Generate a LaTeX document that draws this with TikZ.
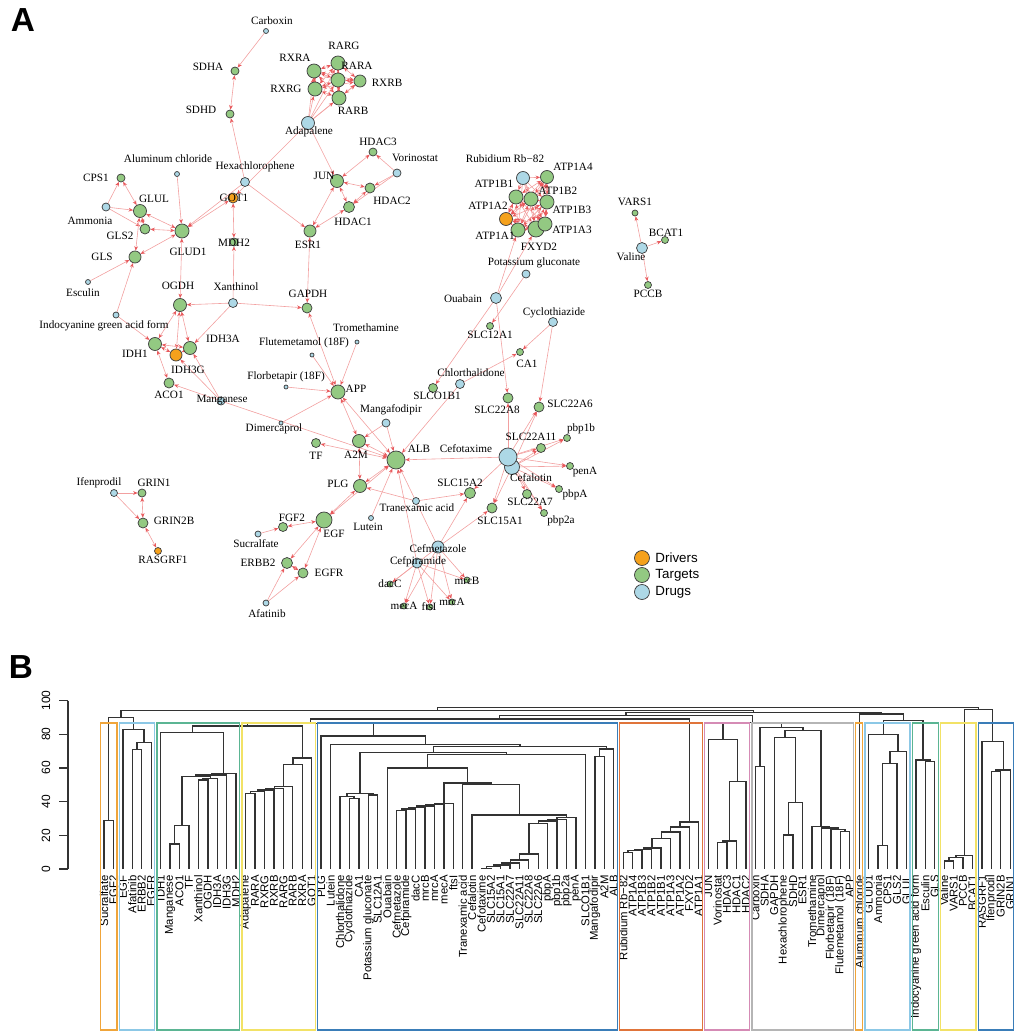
\documentclass[tikz,border=0pt]{standalone}
\usepackage{fontspec}
\setmainfont{Liberation Serif}
\newfontfamily\dsans{Liberation Sans}
\usetikzlibrary{arrows.meta,positioning,calc}
\pgfdeclarelayer{background}
\pgfdeclarelayer{foreground}
\pgfsetlayers{background,main,foreground}
\definecolor{drvcol}{HTML}{F5A11C}
\definecolor{tgtcol}{HTML}{93C982}
\definecolor{drgcol}{HTML}{ADD8E6}
\definecolor{edgecol}{HTML}{F2A0A0}
\definecolor{tipcol}{HTML}{E8595C}
\definecolor{treecol}{HTML}{333333}
\definecolor{bxorange}{HTML}{F0A53A}
\definecolor{bxlblue}{HTML}{8CC8E6}
\definecolor{bxgreen}{HTML}{5BB593}
\definecolor{bxyellow}{HTML}{F2E266}
\definecolor{bxblue}{HTML}{3A7DB8}
\definecolor{bxred}{HTML}{E0743A}
\definecolor{bxpink}{HTML}{D58BB5}
\definecolor{bxgrey}{HTML}{B5B5B5}

% one link of the tree: new point, left child, right child, height
\newcommand{\dmerge}[4]{%
  \pgfmathsetmacro{\dhy}{869-1.684*#4}
  \draw[dlink] (#2) -- (#2 |- 0,\dhy) -- (#3 |- 0,\dhy) -- (#3);
  \coordinate (#1) at ($(#2 |- 0,\dhy)!0.5!(#3 |- 0,\dhy)$);
}
% cluster box from first to last leaf
\newcommand{\dbox}[3]{\draw[bx,#3] ($(k#1)+(-3.5,-146)$) rectangle ($(k#2)+(3.5,161)$);}

\begin{document}
\begin{tikzpicture}[x=0.75pt,y=-0.75pt,
  nd/.style={circle,draw=black!75,line width=0.55pt,inner sep=0pt,minimum size={1.5pt*#1}},
  drv/.style={nd=#1,fill=drvcol},
  tgt/.style={nd=#1,fill=tgtcol},
  drg/.style={nd=#1,fill=drgcol},
  lbl/.style={inner sep=0pt,font=\fontsize{8.4}{9}\selectfont},
  hit/.style={draw=edgecol,line width=0.45pt,-{Stealth[length=3.4pt,width=2.8pt,color=tipcol]}},
  ppi/.style={draw=edgecol,line width=0.45pt,{Stealth[length=3.4pt,width=2.8pt,color=tipcol]}-{Stealth[length=3.4pt,width=2.8pt,color=tipcol]}},
  dlink/.style={draw=treecol,line width=1pt},
  bx/.style={line width=1pt},
  axln/.style={draw=treecol,line width=1pt},
  leaflbl/.style={rotate=90,anchor=east,inner sep=0pt,font=\dsans\fontsize{8.5}{9}\selectfont},
  ticklbl/.style={rotate=90,inner sep=0pt,font=\dsans\fontsize{9}{9}\selectfont},
  lgd/.style={inner sep=0pt,font=\dsans\fontsize{10}{11}\selectfont},
  panel/.style={font=\dsans\bfseries\fontsize{25}{25}\selectfont}]
\useasboundingbox (0,0) rectangle (1020,1035);

\node[panel] (pA) at (23,20) {A};
\node[panel] (pB) at (21,667) {B};

%drivers
\node[drv=5] (GOT1) at (233,198) {};
\node[drv=6] (IDH3G) at (176,355) {};
\node[drv=3.5] (RASGRF1) at (158,551) {};

%targets
\node[tgt=4] (SDHA) at (235,71) {};
\node[tgt=4] (SDHD) at (230,114) {};
\node[tgt=7] (RXRA) at (314,71) {};
\node[tgt=7] (RXRG) at (315,89) {};
\node[tgt=7] (RARG) at (338,63) {};
\node[tgt=7] (RARA) at (338,80) {};
\node[tgt=6] (RXRB) at (360,81) {};
\node[tgt=7] (RARB) at (339,98) {};
\node[tgt=4] (CPS1) at (121,178) {};
\node[tgt=6.5] (GLUL) at (140,211) {};
\node[tgt=5] (GLS2) at (145,229) {};
\node[tgt=7] (GLUD1) at (182,231) {};
\node[tgt=4] (MDH2) at (234,242) {};
\node[tgt=6.5] (JUN) at (337,181) {};
\node[tgt=6] (ESR1) at (310,231) {};
\node[tgt=6] (GLS) at (135,257) {};
\node[tgt=6.5] (OGDH) at (180,305) {};
\node[tgt=5] (GAPDH) at (307,308) {};
\node[tgt=6.5] (IDH1) at (155,344) {};
\node[tgt=6.5] (IDH3A) at (190,348) {};
\node[tgt=5] (ACO1) at (169,383) {};
\node[tgt=7] (APP) at (338,392) {};
\node[tgt=4.5] (TF) at (316,443) {};
\node[tgt=6.5] (A2M) at (359,441) {};
\node[tgt=9] (ALB) at (396,460) {};
\node[tgt=4.5] (SLCO1B1) at (433,388) {};
\node[tgt=3.5] (SLC12A1) at (490,326) {};
\node[tgt=3.5] (CA1) at (520,352) {};
\node[tgt=5] (SLC22A8) at (508,398) {};
\node[tgt=5] (SLC22A6) at (539,407) {};
\node[tgt=4.5] (SLC22A11) at (541,448) {};
\node[tgt=3.5] (pbp1b) at (567,438) {};
\node[tgt=3.5] (penA) at (570,466) {};
\node[tgt=3.5] (pbpA) at (559,489) {};
\node[tgt=3.5] (pbp2a) at (544,513) {};
\node[tgt=4.5] (SLC22A7) at (527,494) {};
\node[tgt=5.5] (SLC15A2) at (470,493) {};
\node[tgt=5] (SLC15A1) at (492,508) {};
\node[tgt=6.5] (PLG) at (360,486) {};
\node[tgt=8] (EGF) at (324,520) {};
\node[tgt=3] (dacC) at (390,584) {};
\node[tgt=3] (mrcB) at (467,580) {};
\node[tgt=3] (mecA) at (404,606) {};
\node[tgt=3] (ftsI) at (430,607) {};
\node[tgt=3] (mrcA) at (452,602) {};
\node[tgt=4.5] (FGF2) at (283,527) {};
\node[tgt=5.5] (ERBB2) at (287,563) {};
\node[tgt=5] (EGFR) at (303,573) {};
\node[tgt=4] (GRIN1) at (142,493) {};
\node[tgt=5] (GRIN2B) at (143,523) {};
\node[tgt=4] (HDAC3) at (373,152) {};
\node[tgt=5] (HDAC2) at (370,188) {};
\node[tgt=5.5] (HDAC1) at (349,207) {};
\node[tgt=6.5] (ATP1A4) at (547,177) {};
\node[tgt=7] (ATP1B1) at (516,197) {};
\node[tgt=7] (ATP1B2) at (531,199) {};
\node[tgt=7] (ATP1B3) at (547,202) {};
\node[drv=6.5] (ATP1A2) at (506,219) {};
\node[tgt=7] (ATP1A1) at (518,230) {};
\node[tgt=8] (FXYD2) at (536,229) {};
\node[tgt=7] (ATP1A3) at (545,224) {};
\node[tgt=3] (VARS1) at (635,213) {};
\node[tgt=3.5] (BCAT1) at (665,240) {};
\node[tgt=3.5] (PCCB) at (648,285) {};

%drugs
\node[drg=2.5] (Carboxin) at (266,31) {};
\node[drg=6.5] (Adapalene) at (308,123) {};
\node[drg=2.5] (AlCl) at (177,174) {};
\node[drg=4.5] (Hexa) at (245,182) {};
\node[drg=4] (Ammonia) at (106,207) {};
\node[drg=2.5] (Esculin) at (88,282) {};
\node[drg=4.5] (Xanthinol) at (233,303) {};
\node[drg=3] (ICG) at (116,315) {};
\node[drg=4] (Mn) at (221,401) {};
\node[drg=2] (Trometh) at (357,342) {};
\node[drg=2] (Flute) at (312,355) {};
\node[drg=2] (Florbe) at (286,387) {};
\node[drg=2] (Dimer) at (281,423) {};
\node[drg=4] (Mangaf) at (386,423) {};
\node[drg=4.5] (Chlort) at (460,384) {};
\node[drg=4.5] (Cyclo) at (553,322) {};
\node[drg=4] (PotGlu) at (526,274) {};
\node[drg=5.5] (Ouabain) at (496,298) {};
\node[drg=7.5] (Cefalot) at (512,467) {};
\node[drg=9] (Cefotax) at (508,457) {};
\node[drg=3.5] (Tranex) at (416,501) {};
\node[drg=2.5] (Lutein) at (371,518) {};
\node[drg=6] (Cefmet) at (438,547) {};
\node[drg=5] (Cefpir) at (417,563) {};
\node[drg=3] (Sucral) at (258,534) {};
\node[drg=3] (Afatinib) at (266,603) {};
\node[drg=3.5] (Ifenpro) at (114,493) {};
\node[drg=4] (Vorino) at (397,173) {};
\node[drg=6.5] (RbCl) at (523,178) {};
\node[drg=5.5] (Valine) at (642,248) {};

%links
\begin{pgfonlayer}{background}
\foreach \a/\b in {Carboxin/SDHA,Hexa/SDHD,Hexa/ESR1,Hexa/GLUD1,Adapalene/GOT1,Adapalene/JUN,
  AlCl/GLUD1,Ammonia/CPS1,Ammonia/GLUL,Ammonia/GLS2,Esculin/GLS,ICG/GLS,ICG/IDH1,
  Xanthinol/MDH2,Xanthinol/OGDH,Xanthinol/GAPDH,Xanthinol/IDH3A,Mn/ACO1,Mn/IDH3G,Mn/IDH3A,Mn/ALB,
  Trometh/APP,Flute/APP,Florbe/APP,Dimer/APP,Mangaf/A2M,Mangaf/ALB,Lutein/ALB,Tranex/PLG,Tranex/SLC15A2,
  Sucral/FGF2,Afatinib/ERBB2,Afatinib/EGFR,Ifenpro/GRIN1,Ifenpro/GRIN2B,Valine/VARS1,Valine/BCAT1,Valine/PCCB,
  Vorino/HDAC3,Vorino/HDAC2,Vorino/HDAC1,Ouabain/ATP1A1,Ouabain/FXYD2,Ouabain/SLCO1B1,Ouabain/SLC22A8,
  PotGlu/SLC12A1,Cyclo/CA1,Cyclo/SLC22A6,Chlort/CA1,Chlort/ALB}
  \draw[hit] (\a) -- (\b);
\foreach \b in {ALB,SLC22A6,SLC22A8,SLC22A11,pbp1b,penA,pbpA,pbp2a,SLC22A7,SLC15A1,SLC15A2}
  \draw[hit] (Cefotax) -- (\b);
\foreach \b in {SLC22A6,SLC22A11,pbp1b,penA,pbpA,pbp2a,SLC15A1}
  \draw[hit] (Cefalot) -- (\b);
\foreach \b in {SLC15A1,SLC15A2,ALB,mrcB,mrcA,mecA,ftsI,dacC}
  \draw[hit] (Cefmet) -- (\b);
\foreach \b in {ALB,dacC,mecA,ftsI,mrcA,mrcB}
  \draw[hit] (Cefpir) -- (\b);
\foreach \b in {RXRA,RXRG,RARG,RARA,RXRB,RARB}
  \draw[hit] (Adapalene) -- (\b);
\foreach \b in {ATP1A4,ATP1B1,ATP1B2,ATP1B3,ATP1A2,ATP1A1,FXYD2,ATP1A3}
  \draw[hit] (RbCl) -- (\b);
\foreach \a/\b in {SDHA/SDHD,CPS1/GLUL,GLUL/GLS2,GLUL/GLUD1,GLS2/GLUD1,GLUL/GLS,GLS/GLUD1,GOT1/MDH2,GOT1/GLUD1,
  GLUD1/OGDH,JUN/ESR1,JUN/HDAC1,JUN/HDAC2,JUN/HDAC3,HDAC1/HDAC2,HDAC1/ESR1,ESR1/GAPDH,GAPDH/APP,
  OGDH/IDH1,OGDH/IDH3G,OGDH/IDH3A,IDH1/IDH3G,IDH1/IDH3A,IDH3A/IDH3G,IDH1/ACO1,APP/A2M,APP/ALB,A2M/ALB,
  A2M/PLG,PLG/ALB,PLG/EGF,EGF/ALB,ALB/TF,EGF/FGF2,EGF/ERBB2,EGF/EGFR,ERBB2/EGFR,GRIN1/GRIN2B,GRIN2B/RASGRF1}
  \draw[ppi] (\a) -- (\b);
\foreach \a [count=\i] in {RXRA,RXRG,RARG,RARA,RXRB,RARB}
  \foreach \b [count=\j] in {RXRA,RXRG,RARG,RARA,RXRB,RARB}
    {\ifnum\j>\i \draw[ppi] (\a) -- (\b);\fi}
\foreach \a [count=\i] in {ATP1A4,ATP1B1,ATP1B2,ATP1B3,ATP1A2,ATP1A1,FXYD2,ATP1A3}
  \foreach \b [count=\j] in {ATP1A4,ATP1B1,ATP1B2,ATP1B3,ATP1A2,ATP1A1,FXYD2,ATP1A3}
    {\ifnum\j>\i \draw[ppi] (\a) -- (\b);\fi}
\end{pgfonlayer}

%network labels
\node[lbl] (tCarboxin) at (272,21) {Carboxin};
\node[lbl] (tSDHA) at (208,67) {SDHA};
\node[lbl] (tSDHD) at (201,110) {SDHD};
\node[lbl] (tRXRA) at (295,58) {RXRA};
\node[lbl] (tRXRG) at (286,89) {RXRG};
\node[lbl] (tRARG) at (344,46) {RARG};
\node[lbl] (tRARA) at (357,66) {RARA};
\node[lbl] (tRXRB) at (387,83) {RXRB};
\node[lbl] (tRARB) at (353,111) {RARB};
\node[lbl] (tAdapalene) at (309,132) {Adapalene};
\node[lbl] (tAlCl) at (168,159) {Aluminum chloride};
\node[lbl] (tHexa) at (255,167) {Hexachlorophene};
\node[lbl] (tCPS1) at (96,178) {CPS1};
\node[lbl] (tGLUL) at (154,199) {GLUL};
\node[lbl] (tAmmonia) at (90,221) {Ammonia};
\node[lbl] (tGLS2) at (120,236) {GLS2};
\node[lbl] (tGLUD1) at (188,252) {GLUD1};
\node[lbl] (tGOT1) at (234,198) {GOT1};
\node[lbl] (tMDH2) at (234,243) {MDH2};
\node[lbl] (tJUN) at (324,176) {JUN};
\node[lbl] (tESR1) at (308,245) {ESR1};
\node[lbl] (tGLS) at (102,257) {GLS};
\node[lbl] (tEsculin) at (83,293) {Esculin};
\node[lbl] (tOGDH) at (178,286) {OGDH};
\node[lbl] (tXanthinol) at (236,287) {Xanthinol};
\node[lbl] (tGAPDH) at (308,294) {GAPDH};
\node[lbl] (tICG) at (104,326) {Indocyanine green acid form};
\node[lbl] (tIDH1) at (135,354) {IDH1};
\node[lbl] (tIDH3G) at (188,370) {IDH3G};
\node[lbl] (tIDH3A) at (223,339) {IDH3A};
\node[lbl] (tACO1) at (169,395) {ACO1};
\node[lbl] (tMn) at (222,400) {Manganese};
\node[lbl] (tTrometh) at (366,328) {Tromethamine};
\node[lbl] (tFlute) at (304,343) {Flutemetamol (18F)};
\node[lbl] (tFlorbe) at (286,377) {Florbetapir (18F)};
\node[lbl] (tDimer) at (274,429) {Dimercaprol};
\node[lbl] (tTF) at (316,456) {TF};
\node[lbl] (tAPP) at (356,389) {APP};
\node[lbl] (tA2M) at (356,455) {A2M};
\node[lbl] (tMangaf) at (391,410) {Mangafodipir};
\node[lbl] (tALB) at (419,449) {ALB};
\node[lbl] (tSLCO1B1) at (437,396) {SLCO1B1};
\node[lbl] (tChlort) at (471,373) {Chlorthalidone};
\node[lbl] (tSLC12A1) at (490,335) {SLC12A1};
\node[lbl] (tCA1) at (527,364) {CA1};
\node[lbl] (tCyclo) at (554,313) {Cyclothiazide};
\node[lbl] (tPotGlu) at (534,263) {Potassium gluconate};
\node[lbl] (tOuabain) at (463,299) {Ouabain};
\node[lbl] (tSLC22A8) at (497,410) {SLC22A8};
\node[lbl] (tSLC22A6) at (570,404) {SLC22A6};
\node[lbl] (tSLC22A11) at (531,437) {SLC22A11};
\node[lbl] (tpbp1b) at (581,429) {pbp1b};
\node[lbl] (tCefotax) at (466,449) {Cefotaxime};
\node[lbl] (tCefalot) at (531,478) {Cefalotin};
\node[lbl] (tpenA) at (585,472) {penA};
\node[lbl] (tpbpA) at (575,495) {pbpA};
\node[lbl] (tpbp2a) at (561,521) {pbp2a};
\node[lbl] (tSLC22A7) at (530,502) {SLC22A7};
\node[lbl] (tSLC15A2) at (460,483) {SLC15A2};
\node[lbl] (tSLC15A1) at (500,521) {SLC15A1};
\node[lbl] (tPLG) at (338,484) {PLG};
\node[lbl] (tTranex) at (417,508) {Tranexamic acid};
\node[lbl] (tLutein) at (368,527) {Lutein};
\node[lbl] (tEGF) at (334,534) {EGF};
\node[lbl] (tCefmet) at (438,549) {Cefmetazole};
\node[lbl] (tCefpir) at (418,562) {Cefpiramide};
\node[lbl] (tdacC) at (390,584) {dacC};
\node[lbl] (tmrcB) at (467,581) {mrcB};
\node[lbl] (tmecA) at (404,606) {mecA};
\node[lbl] (tftsI) at (429,607) {ftsI};
\node[lbl] (tmrcA) at (452,602) {mrcA};
\node[lbl] (tSucral) at (256,544) {Sucralfate};
\node[lbl] (tFGF2) at (292,518) {FGF2};
\node[lbl] (tERBB2) at (258,563) {ERBB2};
\node[lbl] (tEGFR) at (329,573) {EGFR};
\node[lbl] (tAfatinib) at (267,614) {Afatinib};
\node[lbl] (tIfenpro) at (99,483) {Ifenprodil};
\node[lbl] (tGRIN1) at (154,483) {GRIN1};
\node[lbl] (tGRIN2B) at (174,521) {GRIN2B};
\node[lbl] (tRASGRF1) at (163,560) {RASGRF1};
\node[lbl] (tHDAC3) at (378,142) {HDAC3};
\node[lbl] (tVorino) at (415,158) {Vorinostat};
\node[lbl] (tHDAC2) at (392,201) {HDAC2};
\node[lbl] (tHDAC1) at (353,222) {HDAC1};
\node[lbl] (tRbCl) at (505,159) {Rubidium Rb−82};
\node[lbl] (tATP1A4) at (573,167) {ATP1A4};
\node[lbl] (tATP1B1) at (494,184) {ATP1B1};
\node[lbl] (tATP1B2) at (558,191) {ATP1B2};
\node[lbl] (tATP1B3) at (572,210) {ATP1B3};
\node[lbl] (tATP1A2) at (488,206) {ATP1A2};
\node[lbl] (tATP1A1) at (495,236) {ATP1A1};
\node[lbl] (tATP1A3) at (572,230) {ATP1A3};
\node[lbl] (tFXYD2) at (539,247) {FXYD2};
\node[lbl] (tVARS1) at (635,202) {VARS1};
\node[lbl] (tBCAT1) at (666,233) {BCAT1};
\node[lbl] (tValine) at (631,257) {Valine};
\node[lbl] (tPCCB) at (648,294) {PCCB};

%legend
\node[drv=7.5] (kDrv) at (642,558) {};
\node[tgt=7.5] (kTgt) at (642,575) {};
\node[drg=7.5] (kDrg) at (642,592) {};
\node[lgd,right=4pt of kDrv] (tDrv) {Drivers};
\node[lgd,right=4pt of kTgt] (tTgt) {Targets};
\node[lgd,right=4pt of kDrg] (tDrg) {Drugs};

%dendrogram axis
\draw[axln] (68,{869-168.4}) -- (68,869);
\foreach \v in {0,20,...,100}{
  \draw[axln] (68,{869-1.684*\v}) -- (59,{869-1.684*\v});
  \node[ticklbl] (tk\v) at (46,{869-1.684*\v}) {\v};
}

%leaves
\foreach \n [count=\i from 0] in {Sucralfate,FGF2,EGF,Afatinib,ERBB2,EGFR,IDH1,Manganese,ACO1,TF,Xanthinol,OGDH,IDH3A,IDH3G,MDH2,
  Adapalene,RARA,RXRG,RXRB,RARG,RARB,RXRA,GOT1,PLG,Lutein,Chlorthalidone,Cyclothiazide,CA1,Potassium gluconate,SLC12A1,
  Ouabain,Cefmetazole,Cefpiramide,dacC,mrcB,mrcA,mecA,ftsI,Tranexamic acid,Cefalotin,Cefotaxime,SLC15A2,SLC15A1,SLC22A7,
  SLC22A11,SLC22A8,SLC22A6,pbpA,pbp1b,pbp2a,penA,SLCO1B1,Mangafodipir,A2M,ALB,Rubidium Rb−82,ATP1A4,ATP1B3,ATP1B2,ATP1B1,
  ATP1A3,ATP1A2,FXYD2,ATP1A1,JUN,Vorinostat,HDAC3,HDAC1,HDAC2,Carboxin,SDHA,GAPDH,Hexachlorophene,SDHD,ESR1,Tromethamine,
  Dimercaprol,Florbetapir (18F),Flutemetamol (18F),APP,Aluminum chloride,GLUD1,Ammonia,CPS1,GLS2,GLUL,
  Indocyanine green acid form,Esculin,GLS,Valine,VARS1,PCCB,BCAT1,RASGRF1,Ifenprodil,GRIN2B,GRIN1}{
  \coordinate (k\i) at ({104+9.44*\i},869);
  \node[leaflbl] (lf\i) at ({104+9.44*\i},875) {\n};
}

%tree
\dmerge{m1}{k0}{k1}{29}
\dmerge{m2}{k3}{k4}{71}
\dmerge{m3}{m2}{k5}{75}
\dmerge{m4}{k2}{m3}{83}
\dmerge{m5}{m1}{m4}{90}
\dmerge{m6}{k7}{k8}{14.8}
\dmerge{m7}{m6}{k9}{25.7}
\dmerge{m8}{k10}{k11}{52.9}
\dmerge{m9}{m8}{k12}{53.9}
\dmerge{m10}{m7}{m9}{54.8}
\dmerge{m11}{m10}{k13}{55.8}
\dmerge{m12}{m11}{k14}{56.8}
\dmerge{m13}{k6}{m12}{81}
\dmerge{m14}{k15}{k16}{45}
\dmerge{m15}{m14}{k17}{46}
\dmerge{m16}{m15}{k18}{47}
\dmerge{m17}{m16}{k19}{48}
\dmerge{m18}{m17}{k20}{49}
\dmerge{m19}{m18}{k21}{62}
\dmerge{m20}{m19}{k22}{66}
\dmerge{m21}{m13}{m20}{85}
\dmerge{m22}{k26}{k27}{41.8}
\dmerge{m23}{k25}{m22}{43}
\dmerge{m24}{k28}{k29}{44}
\dmerge{m25}{m23}{m24}{44.8}
\dmerge{m26}{k31}{k32}{34.6}
\dmerge{m27}{m26}{k33}{35.6}
\dmerge{m28}{m27}{k34}{36.6}
\dmerge{m29}{m28}{k35}{37.4}
\dmerge{m30}{m29}{k36}{38.2}
\dmerge{m31}{m30}{k37}{39}
\dmerge{m32}{k40}{k41}{0.5}
\dmerge{m33}{m32}{k42}{1.3}
\dmerge{m34}{m33}{k43}{2.3}
\dmerge{m35}{m34}{k44}{3.5}
\dmerge{m36}{m35}{k45}{5.3}
\dmerge{m37}{m36}{k46}{8.9}
\dmerge{m38}{m37}{k47}{27}
\dmerge{m39}{m38}{k48}{28.5}
\dmerge{m40}{m39}{k49}{29.5}
\dmerge{m41}{m40}{k50}{30.5}
\dmerge{m42}{k39}{m41}{32}
\dmerge{m43}{k38}{m42}{50}
\dmerge{m44}{m31}{m43}{51}
\dmerge{m45}{k30}{m44}{60}
\dmerge{m46}{m45}{k51}{68}
\dmerge{m47}{m25}{m46}{69}
\dmerge{m48}{k52}{k53}{66.7}
\dmerge{m49}{m48}{k54}{71.3}
\dmerge{m50}{m47}{m49}{72.6}
\dmerge{m51}{k24}{m50}{74}
\dmerge{m52}{k23}{m51}{79}
\dmerge{m53}{m21}{m52}{86.5}
\dmerge{m54}{k55}{k56}{9.7}
\dmerge{m55}{m54}{k57}{10.9}
\dmerge{m56}{m55}{k58}{11.7}
\dmerge{m57}{m56}{k59}{12.5}
\dmerge{m58}{m57}{k60}{18}
\dmerge{m59}{m58}{k61}{22}
\dmerge{m60}{m59}{k62}{25}
\dmerge{m61}{m60}{k63}{28}
\dmerge{m62}{m53}{m61}{89}
\dmerge{m63}{k65}{k66}{15.7}
\dmerge{m64}{m63}{k67}{16.7}
\dmerge{m65}{m64}{k68}{51.9}
\dmerge{m66}{k64}{m65}{77}
\dmerge{m67}{k69}{k70}{60.8}
\dmerge{m68}{k72}{k73}{20.2}
\dmerge{m69}{m68}{k74}{39.4}
\dmerge{m70}{k71}{m69}{78.2}
\dmerge{m71}{k78}{k79}{22.3}
\dmerge{m72}{k77}{m71}{23.3}
\dmerge{m73}{k76}{m72}{24.3}
\dmerge{m74}{k75}{m73}{25.3}
\dmerge{m75}{m70}{m74}{82.1}
\dmerge{m76}{m67}{m75}{83.9}
\dmerge{m77}{m66}{m76}{86.9}
\dmerge{m78}{m62}{m77}{91}
\dmerge{m79}{k82}{k83}{13.9}
\dmerge{m80}{m79}{k84}{62.7}
\dmerge{m81}{m80}{k85}{69.7}
\dmerge{m82}{k81}{m81}{80}
\dmerge{m83}{k87}{k88}{63.7}
\dmerge{m84}{k86}{m83}{64.7}
\dmerge{m85}{m82}{m84}{88}
\dmerge{m86}{k80}{m85}{92}
\dmerge{m87}{m78}{m86}{93}
\dmerge{m88}{m5}{m87}{94}
\dmerge{m89}{k89}{k90}{4.7}
\dmerge{m90}{m89}{k91}{6.9}
\dmerge{m91}{m90}{k92}{7.9}
\dmerge{m92}{k94}{k95}{57.8}
\dmerge{m93}{m92}{k96}{58.8}
\dmerge{m94}{k93}{m93}{75.6}
\dmerge{m95}{m91}{m94}{94.8}
\dmerge{m96}{m88}{m95}{96}

%cluster boxes
\dbox{0}{1}{bxorange}
\dbox{2}{5}{bxlblue}
\dbox{6}{14}{bxgreen}
\dbox{15}{22}{bxyellow}
\dbox{23}{54}{bxblue}
\dbox{55}{63}{bxred}
\dbox{64}{68}{bxpink}
\dbox{69}{79}{bxgrey}
\dbox{80}{80}{bxorange}
\dbox{81}{85}{bxlblue}
\dbox{86}{88}{bxgreen}
\dbox{89}{92}{bxyellow}
\dbox{93}{96}{bxblue}

\end{tikzpicture}
\end{document}
